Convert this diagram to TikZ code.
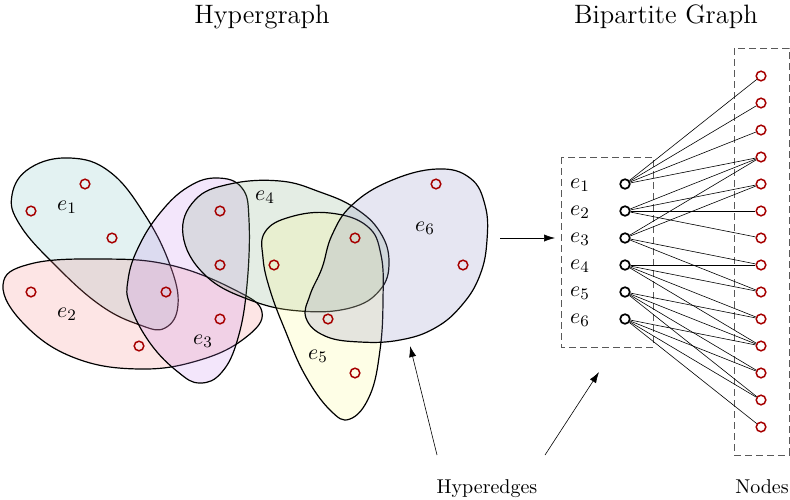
\documentclass[tikz,border=0pt]{standalone}
\usetikzlibrary{arrows.meta}
\definecolor{edgeA}{RGB}{115,190,190}
\definecolor{edgeB}{RGB}{245,125,125}
\definecolor{edgeC}{RGB}{195,130,235}
\definecolor{edgeD}{RGB}{120,165,120}
\definecolor{edgeE}{RGB}{250,250,130}
\definecolor{edgeF}{RGB}{130,130,190}
\begin{document}
\begin{tikzpicture}[x=0.5pt, y=-0.5pt, >={Latex[length=5.5pt,width=3.6pt]},
  vtx/.style={circle, draw=red!65!black, line width=0.75pt, minimum size=4.8pt, inner sep=0pt},
  evtx/.style={circle, draw=black, line width=0.85pt, minimum size=4.8pt, inner sep=0pt},
  hedge/.style={draw=black, semithick, fill opacity=0.2},
  elabel/.style={font=\fontsize{11}{13}\selectfont},
  title/.style={font=\fontsize{13.3}{16}\selectfont, anchor=base},
  tag/.style={font=\fontsize{10}{12}\selectfont, anchor=base},
  dbox/.style={draw=black!65, dash pattern=on 3.5pt off 2pt}]
  \useasboundingbox (0,0) rectangle (790,499);
  \node[title] (tHyper) at (262,23) {Hypergraph};
  \node[title] (tBip) at (666,23) {Bipartite Graph};
  % hyperedges
  \draw[hedge, fill=edgeA] plot[smooth cycle, tension=0.7] coordinates {(12,195) (30,168) (70,158) (110,172) (145,215) (170,265) (178,305) (165,328) (140,325) (100,305) (55,265) (20,225)};
  \draw[hedge, fill=edgeB] plot[smooth cycle, tension=0.7] coordinates {(3,285) (30,264) (100,259) (170,265) (235,290) (262,312) (245,338) (200,360) (140,369) (75,358) (25,325)};
  \draw[hedge, fill=edgeC] plot[smooth cycle, tension=0.7] coordinates {(217,178) (242,188) (249,220) (247,285) (238,338) (222,372) (200,383) (178,372) (150,343) (130,305) (128,280) (138,248) (160,213) (188,187)};
  \draw[hedge, fill=edgeD] plot[smooth cycle, tension=0.7] coordinates {(183,235) (195,200) (230,184) (280,181) (320,192) (355,208) (380,232) (389,262) (380,290) (350,308) (300,311) (250,300) (205,275)};
  \draw[hedge, fill=edgeE] plot[smooth cycle, tension=0.7] coordinates {(265,232) (290,217) (330,213) (367,226) (381,255) (383,300) (380,350) (370,395) (350,419) (330,410) (305,375) (285,330) (270,290) (263,258)};
  \draw[hedge, fill=edgeF] plot[smooth cycle, tension=0.7] coordinates {(437,169) (470,178) (485,205) (487,240) (480,275) (462,305) (435,328) (400,340) (360,342) (325,336) (306,318) (310,295) (322,268) (332,235) (352,205) (390,181)};
  \foreach \n/\t/\x/\y in {1/1/67/207, 2/2/67/314, 3/3/203/341, 4/4/265/197, 5/5/318/356, 6/6/425/228}
    \node[elabel] (he\n) at (\x,\y) {$e_{\t}$};
  % hypergraph vertices
  \foreach \n/\x/\y in {1/85/184, 2/31/211, 3/112/238, 4/166/292, 5/31/292, 6/139/346, 7/220/319, 8/220/211,
      9/220/265, 10/274/265, 11/355/238, 12/328/319, 13/355/373, 14/436/184, 15/463/265}
    \node[vtx] (h\n) at (\x,\y) {};
  % bipartite graph
  \draw[dbox] (561,157) rectangle (653,347);
  \draw[dbox] (734,48) rectangle (789,455);
  \foreach \i in {1,...,6} {
    \node[evtx] (b\i) at (625,{184+27*(\i-1)}) {};
    \node[elabel] (bl\i) at (580,{185+27*(\i-1)}) {$e_{\i}$};
  }
  \foreach \k in {1,...,14}
    \node[vtx] (v\k) at (761,{76+27*(\k-1)}) {};
  \foreach \i/\ks in {1/{1,2,3,4}, 2/{4,5,6,7}, 3/{4,5,8,9}, 4/{8,9,10,11}, 5/{10,11,12,13}, 6/{11,12,13,14}}
    \foreach \k in \ks
      \draw[line width=0.3pt] (b\i) -- (v\k);
  % arrows and captions
  \coordinate (fromHyper) at (500,238);
  \coordinate (toBip) at (555,238);
  \draw[->, line width=0.3pt] (fromHyper) -- (toBip);
  \node[tag] (lEdges) at (487,493) {Hyperedges};
  \node[tag] (lNodes) at (762,493) {Nodes};
  \coordinate (tailA) at (437,455);
  \coordinate (tipA) at (410,346);
  \coordinate (tailB) at (545,455);
  \coordinate (tipB) at (599,372);
  \draw[->, line width=0.3pt] (tailA) -- (tipA);
  \draw[->, line width=0.3pt] (tailB) -- (tipB);
\end{tikzpicture}
\end{document}
